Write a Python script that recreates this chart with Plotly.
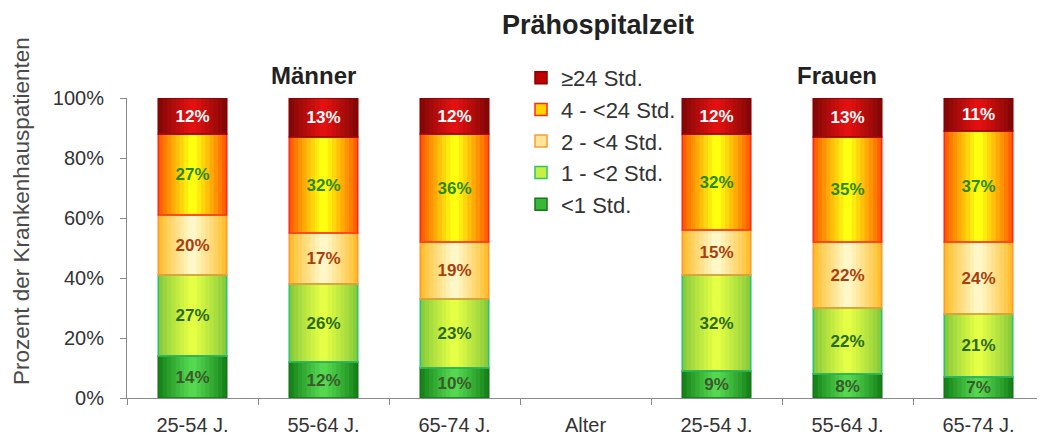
import plotly.graph_objects as go
import numpy as np

# ---------------- data ----------------
categories = ["25-54 J.", "55-64 J.", "65-74 J.", "Alter", "25-54 J.", "55-64 J.", "65-74 J."]
series_names = ["<1 Std.", "1 - <2 Std.", "2 - <4 Std.", "4 - <24 Std.", "≥24 Std."]
lt1 = [14, 12, 10, None, 9, 8, 7]
h1_2 = [27, 26, 23, None, 32, 22, 21]
h2_4 = [20, 17, 19, None, 15, 22, 24]
h4_24 = [27, 32, 36, None, 32, 35, 37]
ge24 = [12, 13, 12, None, 12, 13, 11]
series_values = [lt1, h1_2, h2_4, h4_24, ge24]
y_ticks = [0, 20, 40, 60, 80, 100]
y_tick_labels = ["0%", "20%", "40%", "60%", "80%", "100%"]

# ---------------- styles ----------------
FONT = "Liberation Sans, Arial, sans-serif"
edge_cols = ["#17861a", "#8ccc3c", "#ffbf2e", "#ff6000", "#850808"]
center_cols = ["#55d850", "#e4ff44", "#fff7c8", "#ffff10", "#e21010"]
border_cols = ["#17751a", "#2fc46a", "#ff9a30", "#ff2a1a", "#8a0000"]
text_cols = ["#3a5a2c", "#2a6a12", "#a8400e", "#2a8a00", "#ffffff"]
legend_fill = ["#38b838", "#c8f040", "#ffe49a", "#ffd400", "#c00000"]
BAR_W = 0.52
N_LAYERS = 8

# page has an 8px body margin: the figure starts at (8, 8) of the window
OFF = 8
W_FIG, H_FIG = 1045 - OFF, 436 - OFF
L, T = 127 - OFF, 98 - OFF
R = W_FIG - (1044 - OFF)
B = H_FIG - (398 - OFF)
PW, PH = W_FIG - L - R, H_FIG - T - B


def px_x(px):
    return (px - OFF - L) / PW


def px_y(py):
    return (H_FIG - B - (py - OFF)) / PH


def mix(c1, c2, t):
    a = np.array([int(c1[i:i + 2], 16) for i in (1, 3, 5)], dtype=float)
    b = np.array([int(c2[i:i + 2], 16) for i in (1, 3, 5)], dtype=float)
    c = a + (b - a) * t
    return "rgb(%d,%d,%d)" % tuple(int(round(v)) for v in c)


x_pos = list(range(len(categories)))
vals = np.array([[np.nan if v is None else v for v in s] for s in series_values], dtype=float)
bases = np.vstack([np.zeros(vals.shape[1]), np.nancumsum(vals, axis=0)[:-1]])

fig = go.Figure()

# legend carriers (drawn first, fully covered by the gradient layers)
for i, name in enumerate(series_names):
    fig.add_trace(go.Bar(
        x=x_pos, y=vals[i], base=bases[i], width=BAR_W, name=name,
        marker=dict(color=legend_fill[i], line=dict(color=border_cols[i], width=1.5)),
        showlegend=True, legendrank=100 - i, hoverinfo="skip"))

# gradient layers
for k in range(N_LAYERS):
    t = k / (N_LAYERS - 1)
    w = BAR_W * (1 - k / N_LAYERS)
    for i, name in enumerate(series_names):
        fig.add_trace(go.Bar(
            x=x_pos, y=vals[i], base=bases[i], width=w,
            marker=dict(color=mix(edge_cols[i], center_cols[i], t ** 0.9), line=dict(width=0)),
            showlegend=False, hoverinfo="skip"))

# outlines + value labels
for i, name in enumerate(series_names):
    fig.add_trace(go.Bar(
        x=x_pos, y=vals[i], base=bases[i], width=BAR_W,
        marker=dict(color="rgba(0,0,0,0)", line=dict(color=border_cols[i], width=1.5)),
        texttemplate="<b>%{y:.0f}%</b>", textposition="inside", insidetextanchor="middle",
        textangle=0, constraintext="none",
        textfont=dict(family=FONT, size=17, color=text_cols[i]),
        showlegend=False, hoverinfo="skip"))

fig.update_layout(
    width=W_FIG, height=H_FIG,
    barmode="overlay",
    plot_bgcolor="white", paper_bgcolor="white",
    margin=dict(l=L, r=R, t=T, b=B, autoexpand=False),
    font=dict(family=FONT, color="#333333"),
    title=dict(text="<b>Prähospitalzeit</b>", x=(598 - OFF) / W_FIG, xanchor="center",
               y=1 - (25 - OFF) / H_FIG, yanchor="middle", xref="container", yref="container",
               font=dict(size=27, color="#222222", family=FONT)),
    legend=dict(x=px_x(521), y=px_y(57), xanchor="left", yanchor="top",
                bgcolor="rgba(0,0,0,0)", font=dict(size=22, color="#333333", family=FONT),
                itemclick=False, itemdoubleclick=False),
    showlegend=True,
)

fig.update_xaxes(
    range=[-0.5, len(categories) - 0.5],
    tickvals=x_pos, ticktext=categories, ticks="",
    tickfont=dict(size=20, color="#333333"),
    ticklabelstandoff=9, automargin=False,
    showline=True, linecolor="#8a8a8a", linewidth=1,
    showgrid=False, zeroline=False,
    minor=dict(tick0=0.5, dtick=1, ticks="outside", ticklen=6, tickcolor="#8a8a8a", showgrid=False),
)
fig.update_yaxes(
    range=[0, 100], tickvals=y_ticks, ticktext=y_tick_labels,
    ticks="outside", ticklen=6, tickcolor="#8a8a8a",
    tickfont=dict(size=20, color="#333333"),
    ticklabelstandoff=12, automargin=False,
    showline=True, linecolor="#8a8a8a", linewidth=1,
    showgrid=False, zeroline=False,
)

fig.add_annotation(text="Prozent der Krankenhauspatienten", textangle=-90,
                   x=px_x(21), y=px_y(211), xref="paper", yref="paper", showarrow=False,
                   xanchor="center", yanchor="middle",
                   font=dict(size=22.5, color="#4a4a4a", family=FONT))
fig.add_annotation(text="<b>Männer</b>", x=px_x(313), y=px_y(75), xref="paper", yref="paper",
                   showarrow=False, xanchor="center", yanchor="middle",
                   font=dict(size=24, color="#222222", family=FONT))
fig.add_annotation(text="<b>Frauen</b>", x=px_x(837), y=px_y(75), xref="paper", yref="paper",
                   showarrow=False, xanchor="center", yanchor="middle",
                   font=dict(size=24, color="#222222", family=FONT))

fig.write_html("out.html")
